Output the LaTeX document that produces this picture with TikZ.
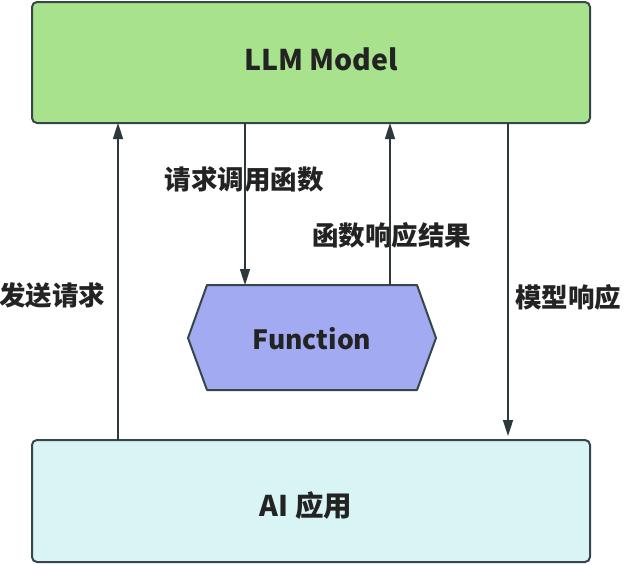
\documentclass[tikz,border=0pt]{standalone}
\usepackage{fontspec}
\setmainfont{Noto Sans CJK SC}
\usetikzlibrary{arrows.meta}
\definecolor{llmgreen}{RGB}{168,226,140}
\definecolor{appcyan}{RGB}{216,244,245}
\definecolor{funcblue}{RGB}{162,170,242}
\definecolor{edge}{RGB}{55,70,75}
\definecolor{txt}{RGB}{35,35,35}
\begin{document}
\begin{tikzpicture}[x=1pt,y=-1pt,
  box/.style={draw=edge,line width=2pt,rounded corners=5pt},
  conn/.style={draw=edge!80!black,line width=1.6pt,-{Triangle[length=16pt,width=10pt]}},
  lbl/.style={font=\fontsize{26.5}{28}\selectfont\bfseries,text=txt,inner sep=0pt},
  big/.style={font=\fontsize{28.5}{30}\selectfont\bfseries,text=txt,inner sep=0pt}]
\useasboundingbox (0,0) rectangle (625,565);
\fill[white] (0,0) rectangle (625,565);
\draw[box,fill=llmgreen] (32,2) rectangle (590,123);
\draw[box,fill=appcyan] (32,440) rectangle (590,562);
\draw[draw=edge,line width=2pt,fill=funcblue,line join=round] (207,285) -- (417,285) -- (436,338) -- (417,390) -- (207,390) -- (188,338) -- cycle;
\node[big] (llm) at (321,59) {LLM Model};
\node[big] (app) at (306,506) {AI 应用};
\node[big,font=\fontsize{26.5}{28}\selectfont\bfseries] (fn) at (312,339) {Function};
\node[lbl] (l1) at (52.5,295) {发送请求};
\node[lbl] (l2) at (244,179) {请求调用函数};
\node[lbl] (l3) at (391.5,235) {函数响应结果};
\node[lbl] (l4) at (568,297) {模型响应};
\coordinate (a1s) at (118,440); \coordinate (a1e) at (118,123);
\coordinate (a2s) at (245,123); \coordinate (a2e) at (245,285);
\coordinate (a3s) at (390,285); \coordinate (a3e) at (390,123);
\coordinate (a4s) at (508,123); \coordinate (a4e) at (508,436);
\draw[conn] (a1s) -- (a1e);
\draw[conn] (a2s) -- (a2e);
\draw[conn] (a3s) -- (a3e);
\draw[conn] (a4s) -- (a4e);
\end{tikzpicture}
\end{document}
